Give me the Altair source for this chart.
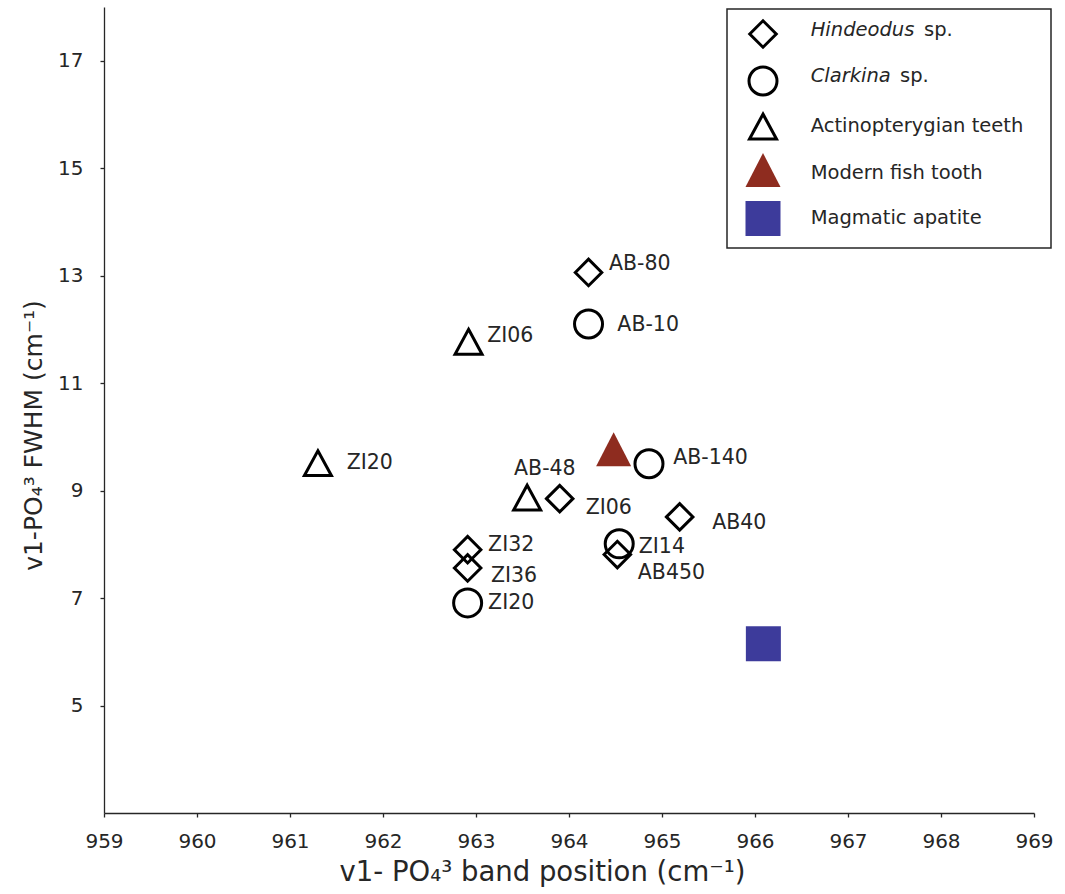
import altair as alt
import pandas as pd

# ---------------- data ----------------
hind_names = ["AB-80", "ZI06", "AB40", "ZI32", "ZI36", "AB450"]
hind_pos = [964.21, 963.90, 965.19, 962.91, 962.91, 964.52]
hind_fwhm = [13.06, 8.85, 8.51, 7.90, 7.56, 7.81]
hind_lab_x = [964.43, 964.18, 965.54, 963.13, 963.16, 964.74]
hind_lab_y = [13.22, 8.68, 8.39, 7.98, 7.41, 7.47]

clark_names = ["AB-10", "AB-140", "ZI14", "ZI20"]
clark_pos = [964.21, 964.86, 964.54, 962.91]
clark_fwhm = [12.10, 9.50, 8.01, 6.91]
clark_lab_x = [964.52, 965.12, 964.75, 963.13]
clark_lab_y = [12.09, 9.60, 7.95, 6.91]

actino_names = ["ZI06", "ZI20", "AB-48"]
actino_pos = [962.92, 961.30, 963.55]
actino_fwhm = [11.77, 9.51, 8.87]
actino_lab_x = [963.12, 961.61, 963.74]
actino_lab_y = [11.88, 9.51, 9.41]

modern_pos = [964.48]
modern_fwhm = [9.77]

magmatic_pos = [966.09]
magmatic_fwhm = [6.15]

centered_labels = ["AB-48"]

x_ticks = list(range(959, 970))
y_ticks = [5, 7, 9, 11, 13, 15, 17]

groups = ["Hindeodus sp.", "Clarkina sp.", "Actinopterygian teeth",
          "Modern fish tooth", "Magmatic apatite"]
legend_italic = ["Hindeodus", "Clarkina", "", "", ""]
legend_plain = ["sp.", "sp.", "Actinopterygian teeth", "Modern fish tooth", "Magmatic apatite"]

# ---------------- build tables ----------------
rows = []
for g, names, px, py, lx, ly in [
    (groups[0], hind_names, hind_pos, hind_fwhm, hind_lab_x, hind_lab_y),
    (groups[1], clark_names, clark_pos, clark_fwhm, clark_lab_x, clark_lab_y),
    (groups[2], actino_names, actino_pos, actino_fwhm, actino_lab_x, actino_lab_y),
]:
    for n, a, b, c, d in zip(names, px, py, lx, ly):
        rows.append(dict(group=g, name=n, pos=a, fwhm=b, lx=c, ly=d))
for a, b in zip(modern_pos, modern_fwhm):
    rows.append(dict(group=groups[3], name="", pos=a, fwhm=b, lx=a, ly=b))
for a, b in zip(magmatic_pos, magmatic_fwhm):
    rows.append(dict(group=groups[4], name="", pos=a, fwhm=b, lx=a, ly=b))
df = pd.DataFrame(rows)

FONT = "DejaVu Sans"
TXT = "#262626"
RED = "#8e2c1f"
BLUE = "#3d3b9b"

TRI_OPEN = "M0,-0.92L1,0.92L-1,0.92Z"
TRI_FILL = "M0,-0.97L1,0.97L-1,0.97Z"

styles = {
    groups[0]: dict(shape="diamond", size=702, filled=False, stroke="black", strokeWidth=3),
    groups[1]: dict(shape="circle", size=784, filled=False, stroke="black", strokeWidth=3),
    groups[2]: dict(shape=TRI_OPEN, size=729, filled=False, stroke="black", strokeWidth=3),
    groups[3]: dict(shape=TRI_FILL, size=1225, filled=True, fill=RED, strokeWidth=0),
    groups[4]: dict(shape="square", size=1225, filled=True, fill=BLUE, strokeWidth=0),
}

xscale = alt.Scale(domain=[959, 969], nice=False, zero=False)
yscale = alt.Scale(domain=[3, 18], nice=False, zero=False)
xaxis = alt.Axis(values=x_ticks, format="d", title="v1- PO₄³ band position (cm⁻¹)",
                 titleFontSize=27.5, labelFontSize=20, labelPadding=14, titlePadding=7,
                 labelFlush=False, titleX=438, titleAnchor="middle")
yaxis = alt.Axis(values=y_ticks, format="d", title="v1-PO₄³ FWHM (cm⁻¹)",
                 titleFontSize=25, labelFontSize=20, labelPadding=17, titlePadding=11,
                 labelFlush=False, titleY=428, titleAnchor="middle")


def X(field):
    return alt.X(f"{field}:Q", scale=xscale, axis=xaxis)


def Y(field):
    return alt.Y(f"{field}:Q", scale=yscale, axis=yaxis)


layers = []
for g in groups:
    st = styles[g]
    layers.append(
        alt.Chart(df[df.group == g]).mark_point(opacity=1, **st).encode(x=X("pos"), y=Y("fwhm"))
    )

lab = df[df.name != ""]
lab_left = lab[~lab.name.isin(centered_labels)]
lab_center = lab[lab.name.isin(centered_labels)]
layers.append(
    alt.Chart(lab_left).mark_text(align="left", baseline="middle", fontSize=20.5, font=FONT, color=TXT)
    .encode(x=X("lx"), y=Y("ly"), text="name:N")
)
layers.append(
    alt.Chart(lab_center).mark_text(align="center", baseline="middle", fontSize=20.5, font=FONT, color=TXT)
    .encode(x=X("lx"), y=Y("ly"), text="name:N")
)

# ---------------- manual legend (pixel layout within plot area) ----------------
leg_df = pd.DataFrame({"k": [0]})
layers.append(
    alt.Chart(leg_df).mark_rect(fill="white", stroke=TXT, strokeWidth=1.5)
    .encode(x=alt.value(623), x2=alt.value(947), y=alt.value(2), y2=alt.value(241))
)
sym_y = [27, 74, 119.5, 163, 211.5]
txt_y = [23, 69, 119, 165.5, 211.2]
plain_x = [820, 796, 706.7, 706.7, 706.7]
for i, g in enumerate(groups):
    st = styles[g]
    layers.append(
        alt.Chart(leg_df).mark_point(opacity=1, **st)
        .encode(x=alt.value(659), y=alt.value(sym_y[i]))
    )
    if legend_italic[i]:
        layers.append(
            alt.Chart(leg_df).mark_text(align="left", baseline="middle", fontSize=19.5, font=FONT,
                                        fontStyle="italic", color=TXT, text=legend_italic[i])
            .encode(x=alt.value(706.7), y=alt.value(txt_y[i]))
        )
    layers.append(
        alt.Chart(leg_df).mark_text(align="left", baseline="middle", fontSize=19.5, font=FONT,
                                    color=TXT, text=legend_plain[i])
        .encode(x=alt.value(plain_x[i]), y=alt.value(txt_y[i]))
    )

chart = (
    alt.layer(*layers)
    .properties(width=930, height=806,
                padding={"left": 104, "top": 7, "right": 31, "bottom": 81},
                autosize=alt.AutoSizeParams(type="none"))
    .configure_view(stroke=None)
    .configure_axis(grid=False, domainColor=TXT, domainWidth=1.3, tickColor=TXT, tickWidth=1.3,
                    tickSize=4, labelFont=FONT, labelColor=TXT, titleFont=FONT,
                    titleFontWeight="normal", titleColor=TXT)
)

chart.save("out.html", embed_options={"renderer": "svg", "actions": False})
